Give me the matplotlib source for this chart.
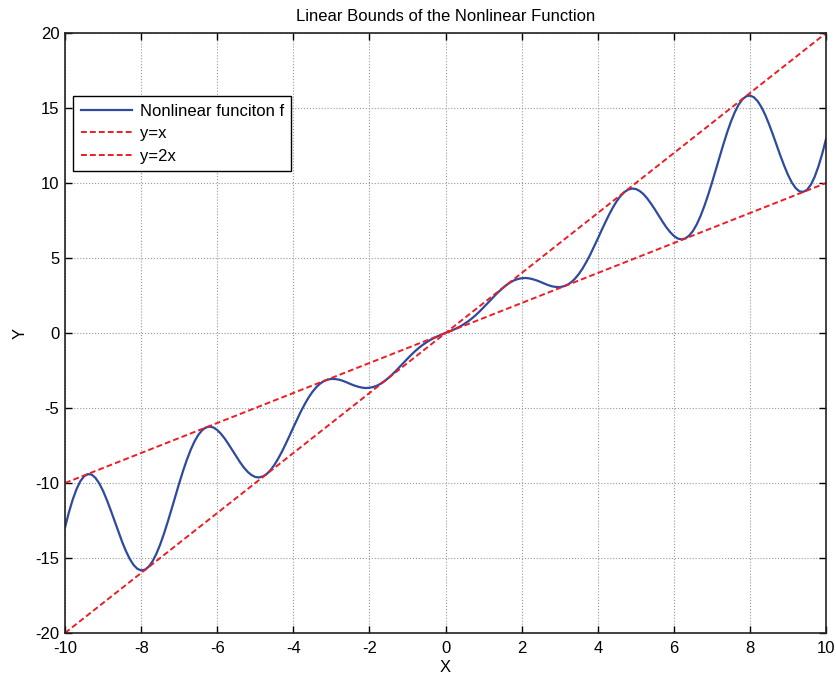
import matplotlib
matplotlib.use('Agg')
import matplotlib.pyplot as plt

plt.rcParams['font.family'] = ['Liberation Sans', 'DejaVu Sans']
plt.rcParams['font.size'] = 12
plt.rcParams['axes.unicode_minus'] = False

# curve (positive half, the curve is symmetric about the origin)
x_pos = [0.0, 0.1, 0.2, 0.3, 0.4, 0.5, 0.6, 0.7, 0.8, 0.9, 1.0, 1.1, 1.2, 1.3, 1.4, 1.5, 1.6, 1.7, 1.8, 1.9,
         2.0, 2.1, 2.2, 2.3, 2.4, 2.5, 2.6, 2.7, 2.8, 2.9, 3.0, 3.1, 3.2, 3.3, 3.4, 3.5, 3.6, 3.7, 3.8, 3.9,
         4.0, 4.1, 4.2, 4.3, 4.4, 4.5, 4.6, 4.7, 4.8, 4.9, 5.0, 5.1, 5.2, 5.3, 5.4, 5.5, 5.6, 5.7, 5.8, 5.9,
         6.0, 6.1, 6.2, 6.3, 6.4, 6.5, 6.6, 6.7, 6.8, 6.9, 7.0, 7.1, 7.2, 7.3, 7.4, 7.5, 7.6, 7.7, 7.8, 7.9,
         8.0, 8.1, 8.2, 8.3, 8.4, 8.5, 8.6, 8.7, 8.8, 8.9, 9.0, 9.1, 9.2, 9.3, 9.4, 9.5, 9.6, 9.7, 9.8, 9.9,
         10.0]
y_pos = [0.0, 0.10, 0.21, 0.33, 0.46, 0.62, 0.79, 0.99, 1.21, 1.45, 1.71, 1.97, 2.24, 2.51, 2.76, 2.99, 3.20, 3.37, 3.51, 3.60,
         3.65, 3.67, 3.64, 3.58, 3.50, 3.40, 3.29, 3.19, 3.11, 3.07, 3.06, 3.11, 3.21, 3.38, 3.62, 3.93, 4.30, 4.74, 5.22, 5.75,
         6.29, 6.85, 7.39, 7.91, 8.38, 8.80, 9.14, 9.40, 9.56, 9.63, 9.60, 9.47, 9.26, 8.97, 8.62, 8.24, 7.83, 7.43, 7.05, 6.73,
         6.47, 6.30, 6.24, 6.30, 6.49, 6.80, 7.24, 7.80, 8.46, 9.21, 10.02, 10.87, 11.74, 12.58, 13.38, 14.10, 14.72, 15.22, 15.58, 15.78,
         15.83, 15.72, 15.46, 15.06, 14.54, 13.92, 13.24, 12.52, 11.81, 11.14, 10.53, 10.03, 9.66, 9.44, 9.41, 9.55, 9.89, 10.42, 11.12, 11.97,
         12.96]

x_vals = [-v for v in x_pos[:0:-1]] + x_pos
y_vals = [-v for v in y_pos[:0:-1]] + y_pos

line_x = [-10, 10]
line_y1 = [-10, 10]
line_y2 = [-20, 20]

fig = plt.figure(figsize=(8.37, 6.78), dpi=100)
ax = fig.add_axes([0.0777, 0.0664, 0.9093, 0.8849])

ax.plot(x_vals, y_vals, color='#2e4a9e', lw=1.6, label='Nonlinear funciton f')
ax.plot(line_x, line_y1, '--', color='#ee1c25', lw=1.4, dashes=(3, 1.6), label='y=x')
ax.plot(line_x, line_y2, '--', color='#ee1c25', lw=1.4, dashes=(3, 1.6), label='y=2x')

ax.set_xlim(-10, 10)
ax.set_ylim(-20, 20)
ax.set_xticks(range(-10, 11, 2))
ax.set_yticks(range(-20, 21, 5))
ax.grid(True, linestyle=':', color='#999999', lw=0.8)
ax.tick_params(direction='in', length=5, width=1, top=True, right=True, labelsize=12)
ax.tick_params(axis='x', pad=6)
ax.tick_params(axis='y', pad=4)
for s in ax.spines.values():
    s.set_linewidth(1.2)
    s.set_color('#222222')

ax.set_xlabel('X', fontsize=12, labelpad=3)
ax.set_ylabel('Y', fontsize=12)
ax.yaxis.set_label_coords(-0.049, 0.5)
ax.set_title('Linear Bounds of the Nonlinear Function', fontsize=12, pad=9)

leg = ax.legend(loc='upper left', bbox_to_anchor=(0.0105, 0.895), borderaxespad=0, fontsize=12,
                fancybox=False, framealpha=1, edgecolor='black', borderpad=0.45, labelspacing=0.45,
                handlelength=3.1, handletextpad=0.45)
leg.get_frame().set_linewidth(1.0)

plt.savefig('out.png', dpi=100)
